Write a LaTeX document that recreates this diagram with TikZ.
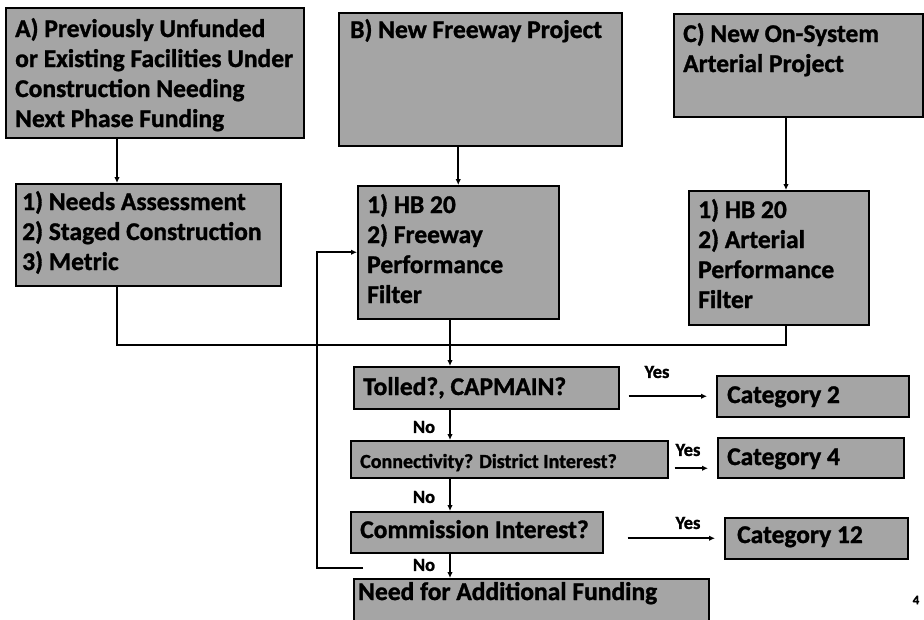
\documentclass[tikz,border=0pt]{standalone}
\usepackage{fontspec}
\setmainfont{Carlito}[BoldFeatures={FakeBold=1.2}]
\usetikzlibrary{arrows.meta,calc}
\definecolor{boxgray}{RGB}{165,165,165}
\begin{document}
\begin{tikzpicture}[x=1pt,y=-1pt,
  box/.style={draw=black, line width=1.5pt, fill=boxgray, inner sep=0pt, anchor=north west},
  txt/.style={inner sep=0pt, anchor=base west, align=left, font=\bfseries\fontsize{25.5}{30}\selectfont},
  smalltxt/.style={txt, font=\bfseries\fontsize{20}{24}\selectfont},
  lbl/.style={inner sep=0pt, font=\bfseries\fontsize{18.5}{20}\selectfont},
  conn/.style={line width=1.6pt},
  arr/.style={line width=1.6pt, -{Latex[length=6pt,width=5.5pt]}}
]
\useasboundingbox (0,0) rectangle (924,619);
\clip (0,0) rectangle (924,619);
\fill[white] (0,0) rectangle (924,619);

% boxes
\node[box, minimum width=298pt, minimum height=130pt] (A) at (5,7) {};
\node[box, minimum width=283pt, minimum height=133pt] (B) at (338,12) {};
\node[box, minimum width=249pt, minimum height=103pt] (C) at (673,13) {};
\node[box, minimum width=265pt, minimum height=102pt] (A1) at (15,183) {};
\node[box, minimum width=201pt, minimum height=133pt] (B1) at (357,185) {};
\node[box, minimum width=180pt, minimum height=134pt] (C1) at (688,190) {};
\node[box, minimum width=265pt, minimum height=42pt] (T) at (353,366) {};
\node[box, minimum width=192pt, minimum height=41pt] (K2) at (716,375) {};
\node[box, minimum width=317pt, minimum height=37pt] (D) at (350,440) {};
\node[box, minimum width=186pt, minimum height=40pt] (K4) at (717,437) {};
\node[box, minimum width=252pt, minimum height=41pt] (M) at (350,511) {};
\node[box, minimum width=183pt, minimum height=41pt] (K12) at (724,517) {};
\node[box, minimum width=355pt, minimum height=46pt] (N) at (353,578) {};

% texts (base anchor = baseline of the last line)
\node[txt] (At) at (15,127) {A) Previously Unfunded\\or Existing Facilities Under\\Construction Needing\\Next Phase Funding};
\node[txt] (Bt) at (350,38) {B) New Freeway Project};
\node[txt] (Ct) at (683,72) {C) New On-System\\Arterial Project};
\node[txt] (A1t) at (22,270) {1) Needs Assessment\\2) Staged Construction\\3) Metric};
\node[txt] (B1t) at (367,303) {1) HB 20\\2) Freeway\\Performance\\Filter};
\node[txt] (C1t) at (698,308) {1) HB 20\\2) Arterial\\Performance\\Filter};
\node[txt] (Tt) at (363,395) {Tolled?, CAPMAIN?};
\node[txt] (K2t) at (727,403) {Category 2};
\node[smalltxt] (Dt) at (360,468) {Connectivity? District Interest?};
\node[txt] (K4t) at (727,465) {Category 4};
\node[txt] (Mt) at (360,538) {Commission Interest?};
\node[txt] (K12t) at (737,543) {Category 12};
\node[txt] (Nt) at (358,600) {Need for Additional Funding};

% labels
\node[lbl] (y1) at (657,372) {Yes};
\node[lbl] (y2) at (688,450) {Yes};
\node[lbl] (y3) at (688,523) {Yes};
\node[lbl] (n1) at (424,427) {No};
\node[lbl] (n2) at (424,497) {No};
\node[lbl] (n3) at (424,565) {No};
\node[inner sep=0pt, font=\bfseries\fontsize{13}{15}\selectfont] (pg) at (916,600) {4};

% helper coordinates
\coordinate (xa) at (117,0);
\coordinate (xb) at (450,0);
\coordinate (xc) at (786,0);
\coordinate (xf) at (317,0);
\coordinate (jy) at (0,345);
\coordinate (fb) at (363,568);

% connectors
\draw[arr] (A.south -| xa) -- (A1.north -| xa);
\draw[arr] (B.south -| B1.north) -- (B1.north);
\draw[arr] (C.south -| xc) -- (C1.north -| xc);
\draw[conn] (A1.south -| xa) -- (xa |- jy) -- (xc |- jy) -- (C1.south -| xc);
\draw[arr] (B1.south -| xb) -- (T.north -| xb);
\draw[arr] (T.south -| xb) -- (D.north -| xb);
\draw[arr] (D.south -| xb) -- (M.north -| xb);
\draw[arr] (M.south -| xb) -- (N.north -| xb);
\draw[arr] (fb) -- (xf |- fb) |- (B1.west);
\draw[arr, shorten <=9pt, shorten >=9pt] (T.east |- K2.west) -- (K2.west);
\draw[arr] ($(D.east)+(6,9)$) -- ($(D.east -| K4.west)+(-9,9)$);
\draw[arr, shorten <=24pt, shorten >=9pt] (M.east |- K12.west) -- (K12.west);
\end{tikzpicture}
\end{document}
